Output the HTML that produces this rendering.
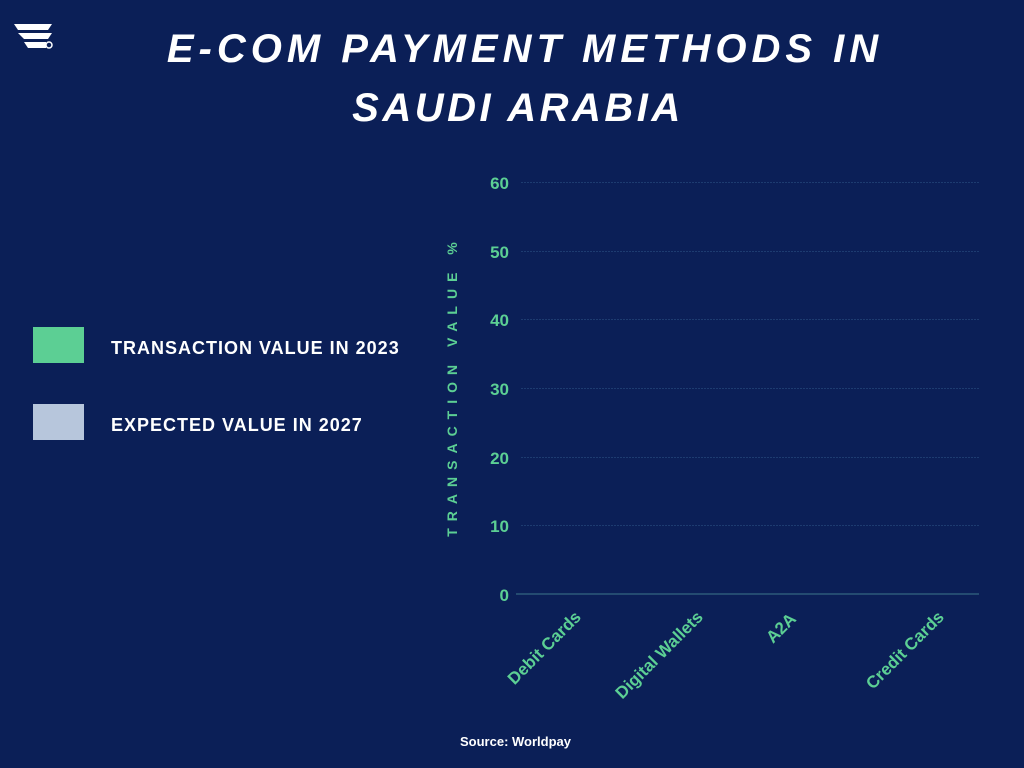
<!DOCTYPE html>
<html><head><meta charset="utf-8"><style>
html,body{margin:0;padding:0;background:#0b1f57;}
</style></head><body>
<svg width="1024" height="768" xmlns="http://www.w3.org/2000/svg" style="display:block">
<rect width="1024" height="768" fill="#0b1f57"/>
<g fill="#fff">
<polygon points="14,24 52,24 48,30 18,30"/>
<polygon points="18,33 52,33 48,39 24,39"/>
<polygon points="24,42 46,42 46,48 28,48"/>
<circle cx="49" cy="45" r="3" fill="none" stroke="#fff" stroke-width="1.5"/>
</g>
<g font-family="Liberation Sans, sans-serif" font-weight="bold" font-style="italic" fill="#fff" font-size="40" text-anchor="middle">
<text x="525" y="62" letter-spacing="5">E-COM PAYMENT METHODS IN</text>
<text x="518" y="121" letter-spacing="3.5">SAUDI ARABIA</text>
</g>
<rect x="33" y="327" width="51" height="36" fill="#5ccf94"/>
<rect x="33" y="404" width="51" height="36" fill="#b7c6dc"/>
<g font-family="Liberation Sans, sans-serif" font-weight="bold" fill="#fff" font-size="18" letter-spacing="1">
<text x="111" y="354">TRANSACTION VALUE IN 2023</text>
<text x="111" y="431">EXPECTED VALUE IN 2027</text>
</g>
<g stroke="#1d3b70" stroke-width="1" stroke-dasharray="2,1">
<line x1="521" y1="182.5" x2="979" y2="182.5"/>
<line x1="521" y1="251.5" x2="979" y2="251.5"/>
<line x1="521" y1="319.5" x2="979" y2="319.5"/>
<line x1="521" y1="388.5" x2="979" y2="388.5"/>
<line x1="521" y1="457.5" x2="979" y2="457.5"/>
<line x1="521" y1="525.5" x2="979" y2="525.5"/>
</g>
<line x1="516" y1="594" x2="979" y2="594" stroke="#2d5a7a" stroke-width="1.5"/>
<g font-family="Liberation Sans, sans-serif" font-weight="bold" fill="#5ccf94" font-size="17" text-anchor="end">
<text x="509" y="189">60</text>
<text x="509" y="258">50</text>
<text x="509" y="326">40</text>
<text x="509" y="395">30</text>
<text x="509" y="464">20</text>
<text x="509" y="532">10</text>
<text x="509" y="601">0</text>
</g>
<text transform="translate(457,386) rotate(-90)" font-family="Liberation Sans, sans-serif" font-weight="bold" fill="#5ccf94" font-size="14" text-anchor="middle" letter-spacing="7">TRANSACTION VALUE %</text>
<g font-family="Liberation Sans, sans-serif" font-weight="bold" fill="#5ccf94" font-size="17" text-anchor="end">
<text transform="translate(582,618) rotate(-45)">Debit Cards</text>
<text transform="translate(704,618) rotate(-45)">Digital Wallets</text>
<text transform="translate(797,620) rotate(-45)">A2A</text>
<text transform="translate(945,618) rotate(-45)">Credit Cards</text>
</g>
<text x="460" y="746" font-family="Liberation Sans, sans-serif" font-weight="bold" fill="#fff" font-size="13">Source: Worldpay</text>
</svg>
</body></html>
